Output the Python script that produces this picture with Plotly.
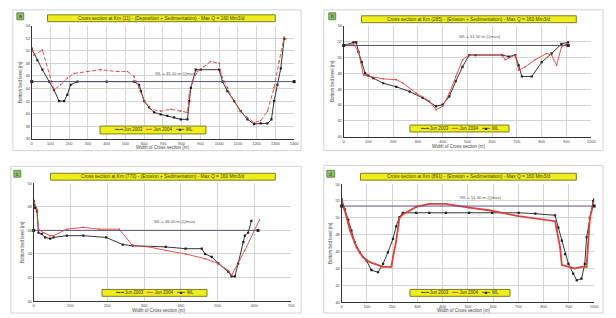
import plotly.graph_objects as go

W, H = 616, 318

# ---------------- data ----------------
panel_ids = ["a", "b", "c", "d"]
titles = [
    "Cross section at Km (11) - (Deposition + Sedimentation) - Max Q = 160 Mm3/d",
    "Cross section at Km (285) - (Erosion + Sedimentation) - Max Q = 160 Mm3/d",
    "Cross section at Km (770) - (Erosion + Sedimentation) - Max Q = 160 Mm3/d",
    "Cross section at Km (891) - (Erosion + Sedimentation) - Max Q = 160 Mm3/d",
]
legend_names = ["Jun 2003", "Jun 2004", "WL"]
x_title = "Width of Cross section (m)"
y_title = "Bottom bed level (m)"

a_x03 = [0, 30, 57, 93, 119, 146, 173, 190, 208, 244, 400, 546, 573, 582, 600, 626, 653, 688, 724, 760,
         795, 831, 840, 849, 875, 902, 1000, 1018, 1044, 1080, 1115, 1151, 1187, 1222, 1258, 1279, 1293,
         1311, 1329, 1347]
a_y03 = [50.35, 48.5, 47.0, 45.1, 43.8, 42.0, 42.0, 43.0, 44.6, 45.1, 45.1, 45.1, 44.6, 43.6, 42.0, 41.0,
         40.2, 39.9, 39.65, 39.4, 39.1, 39.1, 42.0, 44.1, 47.0, 47.0, 47.0, 45.1, 43.6, 42.0, 40.4, 39.1,
         38.35, 38.45, 38.45, 39.1, 42.0, 44.6, 47.2, 51.9]
a_x04 = [0, 12, 57, 119, 155, 190, 226, 297, 368, 457, 511, 546, 573, 600, 635, 688, 742, 795, 831, 840,
         857, 884, 920, 955, 1000, 1009, 1044, 1080, 1115, 1151, 1187, 1222, 1258, 1293, 1320, 1347, 1356]
a_y04 = [50.35, 49.3, 50.1, 43.8, 44.6, 45.65, 46.4, 46.7, 47.0, 46.7, 46.7, 45.9, 44.1, 42.0, 40.7, 40.4,
         40.7, 40.4, 40.2, 43.0, 45.1, 46.7, 47.5, 48.3, 48.0, 46.4, 44.1, 42.0, 40.4, 39.4, 38.6, 38.9,
         40.4, 44.1, 48.3, 52.2, 51.9]
a_wl_x = [0, 1400]
a_wl = 45.1

b_x03 = [0, 40, 51, 60, 73, 87, 100, 120, 160, 213, 267, 320, 373, 400, 427, 453, 480, 507, 533, 640, 667,
         693, 707, 720, 760, 800, 840, 880, 907]
b_y03 = [51.5, 51.9, 51.9, 50.7, 49.4, 48.0, 47.7, 47.4, 46.75, 46.3, 45.7, 44.9, 43.85, 44.05, 45.1, 47.0,
         48.8, 50.3, 50.3, 50.3, 50.1, 50.3, 49.0, 47.6, 47.6, 49.4, 50.5, 51.7, 51.9]
b_x04 = [0, 40, 60, 80, 107, 160, 213, 240, 293, 347, 373, 400, 427, 453, 480, 507, 640, 653, 693, 707, 733,
         773, 820, 840, 860, 880, 900, 907]
b_y04 = [51.5, 51.7, 50.7, 47.8, 47.6, 47.3, 47.2, 46.75, 45.5, 44.5, 43.4, 43.85, 45.5, 47.6, 49.7, 50.3,
         50.3, 49.7, 50.3, 48.4, 48.8, 49.7, 50.5, 50.3, 49.0, 51.3, 51.7, 51.5]
b_wl_x = [0, 907]
b_wl = 51.5

c_x03 = [0, 4, 9, 13, 22, 31, 45, 54, 90, 135, 197, 242, 269, 359, 413, 457, 466, 484, 502, 529, 538, 547,
         556, 570, 574, 583, 592]
c_y03 = [48.5, 47.9, 47.6, 45.8, 45.7, 45.4, 45.3, 45.4, 45.55, 45.55, 45.4, 44.8, 44.7, 44.6, 44.45, 44.45,
         44.0, 43.75, 43.2, 42.5, 42.1, 42.1, 43.2, 45.0, 45.55, 45.8, 46.8]
c_x04 = [0, 9, 13, 27, 45, 54, 90, 135, 179, 233, 269, 314, 359, 413, 466, 502, 529, 538, 574, 614]
c_y04 = [48.5, 47.8, 46.1, 45.8, 45.55, 45.55, 46.1, 46.25, 46.1, 46.1, 44.7, 44.6, 44.3, 44.0, 43.6, 43.2,
         42.6, 42.2, 44.3, 46.9]
c_wl_x = [0, 610]
c_wl = 46.0

d_x03 = [0, 13, 26, 39, 52, 72, 98, 118, 144, 164, 183, 203, 216, 229, 242, 295, 347, 413, 505, 596, 701,
         767, 845, 858, 872, 885, 898, 917, 931, 950, 963, 970, 983, 996, 1000]
d_y03 = [52.2, 51.0, 49.8, 48.5, 47.1, 45.9, 44.95, 43.8, 43.55, 44.55, 45.9, 47.5, 49.0, 50.1, 50.6, 50.6,
         50.6, 50.6, 50.6, 50.6, 50.6, 50.5, 50.3, 48.85, 47.3, 45.7, 44.55, 43.4, 42.6, 42.8, 44.55, 47.7,
         50.0, 52.0, 52.2]
d_x04 = [0, 13, 33, 59, 85, 111, 164, 197, 203, 216, 229, 242, 295, 347, 413, 505, 583, 701, 845, 852, 865,
         872, 898, 924, 950, 970, 983, 1000]
d_y04 = [52.0, 50.8, 48.5, 46.5, 45.3, 44.75, 44.2, 44.2, 45.3, 47.3, 50.0, 50.4, 51.3, 51.66, 51.66, 51.2,
         50.9, 50.2, 49.6, 48.5, 46.5, 44.4, 44.2, 44.0, 44.2, 44.2, 50.0, 52.0]
d_wl_x = [0, 1000]
d_wl = 51.4

x_ranges = [[0, 1400], [0, 1000], [0, 700], [0, 1000]]
y_ranges = [[36, 54], [40, 54], [40, 50], [40, 54]]

series = [
    (a_x03, a_y03, a_x04, a_y04, a_wl_x, a_wl),
    (b_x03, b_y03, b_x04, b_y04, b_wl_x, b_wl),
    (c_x03, c_y03, c_x04, c_y04, c_wl_x, c_wl),
    (d_x03, d_y03, d_x04, d_y04, d_wl_x, d_wl),
]

# ---------------- layout geometry (pixels) ----------------
def px(x):
    return x / W

def py(y):
    return 1 - y / H

plot_boxes = [(31, 296, 23, 138), (346, 596, 23, 136), (33, 293, 183, 303), (344, 599, 184, 304)]
frames = [(12, 303, 7, 150), (326, 608, 7, 150), (10, 303, 166, 315), (326, 608, 165, 315)]
green_boxes = [(16, 23, 10, 17), (331, 338, 10, 17), (13, 20, 170, 177), (329, 337, 170, 177)]
title_boxes = [(47, 277, 12, 19), (364, 581, 13, 20), (50, 277, 173, 180), (363, 581, 173, 180)]
legend_boxes = [(100, 207, 125, 133), (413, 513, 124, 131), (102, 208, 291, 298), (413, 514, 291, 298)]
xtitle_pos = [(164, 147), (462, 146), (160, 312), (468, 312)]

BLACK = "#1e1e1e"
RED = "#d9443f"
WLC = "#5d4f82"
YEL = "#eeee1a"
YEL_B = "#7d7d2a"

fig = go.Figure()
shapes = []
annotations = []

for i in range(4):
    n = "" if i == 0 else str(i + 1)
    xa, ya = "x" + n, "y" + n
    x03, y03, x04, y04, wlx, wl = series[i]
    red_w = 1.8 if i == 3 else 0.9
    fig.add_trace(go.Scatter(x=x03, y=y03, xaxis=xa, yaxis=ya, mode="lines+markers",
                             line=dict(color=BLACK, width=0.9),
                             marker=dict(symbol="square", size=2.2, color=BLACK),
                             name=legend_names[0], showlegend=False))
    fig.add_trace(go.Scatter(x=x04, y=y04, xaxis=xa, yaxis=ya, mode="lines+markers",
                             line=dict(color=RED, width=red_w, dash="4px,2px" if i == 0 else "solid"),
                             marker=dict(symbol="circle", size=1.6, color=RED),
                             name=legend_names[1], showlegend=False))
    fig.add_trace(go.Scatter(x=wlx, y=[wl, wl], xaxis=xa, yaxis=ya, mode="lines+markers",
                             line=dict(color=WLC, width=1),
                             marker=dict(symbol="square", size=3, color=BLACK),
                             name=legend_names[2], showlegend=False, cliponaxis=False))

    x0, x1, y0, y1 = plot_boxes[i]
    common = dict(showgrid=True, gridcolor="#d4d4d4", gridwidth=0.6, zeroline=False,
                  showline=True, linecolor="#333", linewidth=1, ticks="",
                  tickfont=dict(size=4, color="#444", family="Liberation Sans"))
    fig.layout["xaxis" + n] = dict(domain=[px(x0), px(x1)], anchor=ya, range=x_ranges[i], dtick=100,
                                   **common)
    fig.layout["yaxis" + n] = dict(domain=[py(y1), py(y0)], anchor=xa, range=y_ranges[i], dtick=2,
                                   title=dict(text=y_title, font=dict(size=4.5, color="#444"), standoff=2),
                                   **common)
    # x axis title
    tx, ty = xtitle_pos[i]
    annotations.append(dict(xref="paper", yref="paper", x=px(tx), y=py(ty), text=x_title, showarrow=False,
                            font=dict(size=4.5, color="#444"), xanchor="center", yanchor="middle"))

    # panel frame
    fx0, fx1, fy0, fy1 = frames[i]
    shapes.append(dict(type="rect", xref="paper", yref="paper", x0=px(fx0), x1=px(fx1), y0=py(fy1), y1=py(fy0),
                       line=dict(color="#d2d2d2", width=1), layer="below"))
    # green id box
    gx0, gx1, gy0, gy1 = green_boxes[i]
    shapes.append(dict(type="rect", xref="paper", yref="paper", x0=px(gx0), x1=px(gx1), y0=py(gy1), y1=py(gy0),
                       fillcolor="#8fbf6a", line=dict(color="#4e7a35", width=0.8)))
    annotations.append(dict(xref="paper", yref="paper", x=px((gx0 + gx1) / 2), y=py((gy0 + gy1) / 2),
                            text=panel_ids[i], showarrow=False, font=dict(size=5, color="#1f3d12"),
                            xanchor="center", yanchor="middle"))
    # title box
    tx0, tx1, ty0, ty1 = title_boxes[i]
    shapes.append(dict(type="rect", xref="paper", yref="paper", x0=px(tx0), x1=px(tx1), y0=py(ty1), y1=py(ty0),
                       fillcolor=YEL, line=dict(color=YEL_B, width=1)))
    annotations.append(dict(xref="paper", yref="paper", x=px((tx0 + tx1) / 2), y=py((ty0 + ty1) / 2),
                            text=titles[i], showarrow=False, font=dict(size=4.8, color="#3a3a10"),
                            xanchor="center", yanchor="middle"))
    # legend box
    lx0, lx1, ly0, ly1 = legend_boxes[i]
    shapes.append(dict(type="rect", xref="paper", yref="paper", x0=px(lx0), x1=px(lx1), y0=py(ly1), y1=py(ly0),
                       fillcolor=YEL, line=dict(color=YEL_B, width=1)))
    leg_text = (f"<span style='color:{BLACK}'>━▪━</span> {legend_names[0]}   "
                f"<span style='color:{RED}'>━━</span> {legend_names[1]}   "
                f"<span style='color:{WLC}'>━</span><span style='color:{BLACK}'>■</span>"
                f"<span style='color:{WLC}'>━</span> {legend_names[2]}")
    annotations.append(dict(xref="paper", yref="paper", x=px((lx0 + lx1) / 2), y=py((ly0 + ly1) / 2),
                            text=leg_text, showarrow=False, font=dict(size=4.5, color="#333"),
                            xanchor="center", yanchor="middle"))
    # WL label
    xr = x_ranges[i]
    annotations.append(dict(xref=xa, yref=ya, x=xr[0] + 0.55 * (xr[1] - xr[0]), y=wl,
                            text=f"WL = {wl:.2f} m (Qmax)", showarrow=False, yshift=4,
                            font=dict(size=4.2, color="#555"), xanchor="center", yanchor="bottom"))

fig.update_layout(width=W, height=H, margin=dict(l=0, r=0, t=0, b=0),
                  paper_bgcolor="white", plot_bgcolor="white",
                  font=dict(family="Liberation Sans"),
                  shapes=shapes, annotations=annotations, showlegend=False)

fig.write_html("out.html", config={"displayModeBar": False},
               post_script="document.body.style.margin='0';document.body.style.overflow='hidden';")
